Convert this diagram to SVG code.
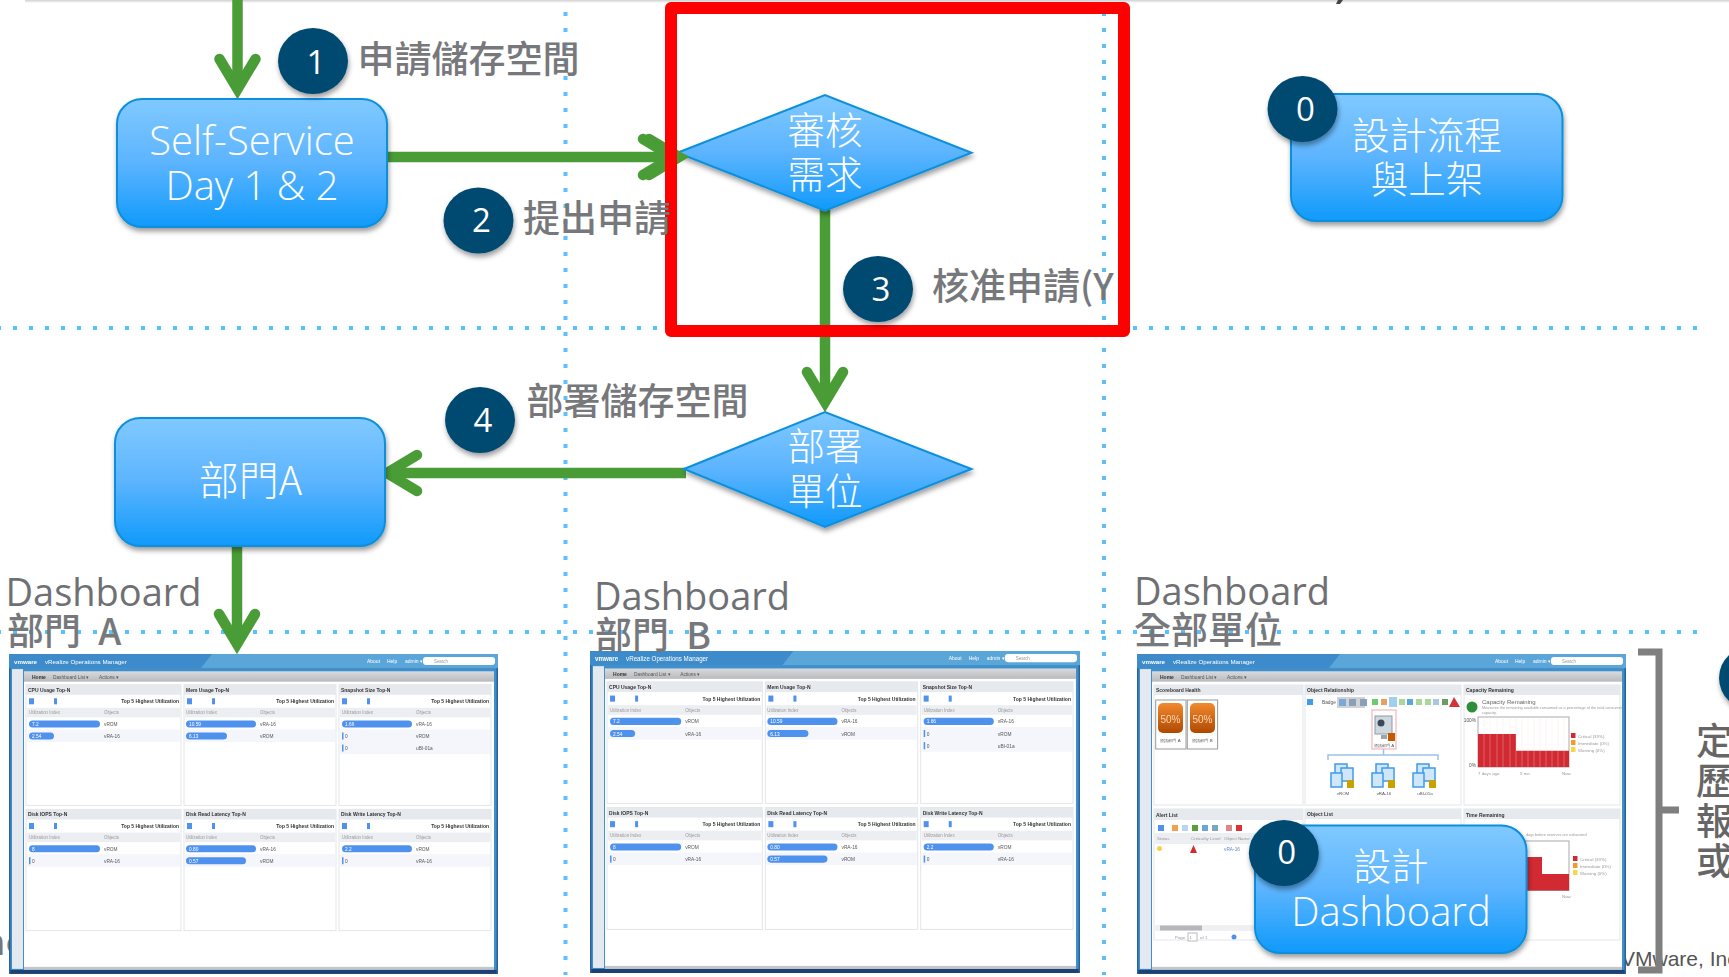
<svg xmlns="http://www.w3.org/2000/svg" xmlns:xlink="http://www.w3.org/1999/xlink" width="1729" height="977" viewBox="0 0 1729 977">
<style>
text{font-family:"Noto Sans CJK TC","Noto Sans",sans-serif}
.lbl{font-size:37px;fill:#77787b;font-weight:500}
.dash{font-size:38px;fill:#6f7073;font-family:"Open Sans","Noto Sans",sans-serif;font-weight:500}
.w{font-size:37.500px;fill:#fff;text-anchor:middle;font-weight:300}
.lat{font-family:"Open Sans","Noto Sans",sans-serif;font-size:40px;fill:#fff;text-anchor:middle;font-weight:300}
.num{font-family:"Open Sans","Noto Sans",sans-serif;font-size:33px;fill:#fff;text-anchor:middle}
.bub{fill:#004a70;filter:url(#sh)}
.node{fill:url(#ng);stroke:#0b8fdc;stroke-width:2;filter:url(#sh)}
.dot{fill:none;stroke:#5cc0fb;stroke-width:4;stroke-dasharray:4 12}
.arr{fill:none;stroke:#4a9c37;stroke-width:10.5}
.s{font-family:"Liberation Sans",sans-serif;font-size:4.8px;fill:#555}
.st{font-family:"Liberation Sans",sans-serif;font-size:5px;fill:#333;font-weight:bold}
.sg{font-family:"Liberation Sans",sans-serif;font-size:4.4px;fill:#999}
.sw{font-family:"Liberation Sans",sans-serif;font-size:6.2px;fill:#fff}
.bar{fill:#4f92ee}
.hd{fill:#e6e9ed}
.th{fill:#eceef2}
.alt{fill:#f5f6fb}
.pn{fill:#fff;stroke:#e4e6ea;stroke-width:1}
</style>
<defs>
<linearGradient id="ng" x1="0" y1="0" x2="0" y2="1"><stop offset="0" stop-color="#80c9ff"/><stop offset=".5" stop-color="#5cb4fe"/><stop offset="1" stop-color="#0f9afb"/></linearGradient>
<linearGradient id="tb" x1="0" y1="0" x2="0" y2="1"><stop offset="0" stop-color="#d8d9dc"/><stop offset="1" stop-color="#b9babd"/></linearGradient>
<linearGradient id="or" x1="0" y1="0" x2="0" y2="1"><stop offset="0" stop-color="#f28a30"/><stop offset="1" stop-color="#b04800"/></linearGradient>
<linearGradient id="top" x1="0" y1="0" x2="0" y2="1"><stop offset="0" stop-color="#cfcfcf"/><stop offset="1" stop-color="#fff"/></linearGradient>
<filter id="sh" x="-20%" y="-20%" width="140%" height="145%"><feDropShadow dx="1" dy="3.5" stdDeviation="2.6" flood-color="#000" flood-opacity=".38"/></filter>
<filter id="bl" x="-2%" y="-2%" width="104%" height="104%"><feGaussianBlur stdDeviation=".45"/></filter>
<marker id="ah" markerUnits="userSpaceOnUse" viewBox="-45 -30 70 60" refX="0" refY="0" markerWidth="70" markerHeight="60" orient="auto" overflow="visible"><path d="M-28,-18 L2,0 L-28,18" fill="none" stroke="#4a9c37" stroke-width="10.5" stroke-linecap="round"/></marker>

<g id="chrome">
<rect x="0" y="0" width="489" height="318" fill="#3f8fca"/>
<rect x="0" y="0" width="489" height="14" fill="#5aa6d8"/>
<polygon points="0,0 203,0 192,14 0,14" fill="#3c8bcb"/>
<rect x="0" y="314" width="489" height="4" fill="#1d4274"/>
<rect x="0" y="14" width="1.500" height="304" fill="#2b639c"/>
<rect x="487.500" y="14" width="1.500" height="304" fill="#2b639c"/>
<rect x="3" y="15" width="11" height="298" fill="#e4e9ef"/>
<rect x="15" y="17.5" width="470" height="294" fill="#fff"/>
<rect x="15" y="17.5" width="470" height="10" fill="url(#tb)"/>
<rect x="15" y="311" width="470" height="3" fill="#c4c6c9"/>
<text class="sw" x="5" y="9.5" font-weight="bold">vmware</text>
<text class="sw" x="36" y="9.5">vRealize Operations Manager</text>
<text class="sw" x="358" y="8.5" style="font-size:5px">About</text>
<text class="sw" x="378" y="8.5" style="font-size:5px">Help</text>
<text class="sw" x="396" y="8.5" style="font-size:5px">admin ▾</text>
<rect x="414" y="3" width="72" height="8" rx="3" fill="#fff"/>
<text class="sg" x="425" y="8.5">Search</text>
<text class="st" x="23" y="24.5">Home</text>
<text class="s" x="44" y="24.5">Dashboard List ▾</text>
<text class="s" x="90" y="24.5">Actions ▾</text>
</g>

<g id="toplist">
<rect class="pn" x="17" y="30.5" width="155" height="120"/><rect class="hd" x="17" y="30.5" width="155" height="10"/>
<rect class="pn" x="175" y="30.5" width="152" height="120"/><rect class="hd" x="175" y="30.5" width="152" height="10"/>
<rect class="pn" x="330" y="30.5" width="152" height="120"/><rect class="hd" x="330" y="30.5" width="152" height="10"/>
<rect class="pn" x="17" y="154.5" width="155" height="120.500"/><rect class="hd" x="17" y="154.5" width="155" height="10"/>
<rect class="pn" x="175" y="154.5" width="152" height="120.500"/><rect class="hd" x="175" y="154.500" width="152" height="10"/>
<rect class="pn" x="330" y="154.5" width="152" height="120.500"/><rect class="hd" x="330" y="154.500" width="152" height="10"/>

<text class="st" x="19" y="37.500">CPU Usage Top-N</text>
<text class="st" x="177" y="37.500">Mem Usage Top-N</text>
<text class="st" x="332" y="37.500">Snapshot Size Top-N</text>
<text class="st" x="19" y="161.500">Disk IOPS Top-N</text>
<text class="st" x="177" y="161.500">Disk Read Latency Top-N</text>
<text class="st" x="332" y="161.500">Disk Write Latency Top-N</text>

<g fill="#4f92ee">
<rect x="20" y="44" width="5" height="6"/><rect x="178" y="44" width="5" height="6"/><rect x="333" y="44" width="5" height="6"/>
<rect x="20" y="168" width="5" height="6"/><rect x="178" y="168" width="5" height="6"/><rect x="333" y="168" width="5" height="6"/>
<rect x="45" y="44" width="3" height="6"/><rect x="203" y="44" width="3" height="6"/><rect x="358" y="44" width="3" height="6"/>
<rect x="45" y="168" width="3" height="6"/><rect x="203" y="168" width="3" height="6"/><rect x="358" y="168" width="3" height="6"/>
</g>
<text class="st" x="170" y="49" text-anchor="end">Top 5 Highest Utilization</text>
<text class="st" x="325" y="49" text-anchor="end">Top 5 Highest Utilization</text>
<text class="st" x="480" y="49" text-anchor="end">Top 5 Highest Utilization</text>
<text class="st" x="170" y="173" text-anchor="end">Top 5 Highest Utilization</text>
<text class="st" x="325" y="173" text-anchor="end">Top 5 Highest Utilization</text>
<text class="st" x="480" y="173" text-anchor="end">Top 5 Highest Utilization</text>
<rect class="th" x="18" y="53.5" width="153" height="9.500"/><rect class="th" x="176" y="53.500" width="150" height="9.500"/><rect class="th" x="331" y="53.500" width="150" height="9.500"/>
<rect class="th" x="18" y="177.500" width="153" height="9.500"/><rect class="th" x="176" y="177.500" width="150" height="9.500"/><rect class="th" x="331" y="177.500" width="150" height="9.500"/>
<rect class="alt" x="18" y="75" width="153" height="12.500"/><rect class="alt" x="176" y="75" width="150" height="12.500"/><rect class="alt" x="331" y="75" width="150" height="12.500"/>
<rect class="alt" x="18" y="199" width="153" height="12.500"/><rect class="alt" x="176" y="199" width="150" height="12.500"/><rect class="alt" x="331" y="199" width="150" height="12.500"/>
<rect class="alt" x="331" y="87.500" width="150" height="12"/>

<text class="sg" x="20" y="60">Utilization Index</text><text class="sg" x="95" y="60">Objects</text>
<text class="sg" x="177" y="60">Utilization Index</text><text class="sg" x="251" y="60">Objects</text>
<text class="sg" x="333" y="60">Utilization Index</text><text class="sg" x="407" y="60">Objects</text>
<text class="sg" x="20" y="184">Utilization Index</text><text class="sg" x="95" y="184">Objects</text>
<text class="sg" x="177" y="184">Utilization Index</text><text class="sg" x="251" y="184">Objects</text>
<text class="sg" x="333" y="184">Utilization Index</text><text class="sg" x="407" y="184">Objects</text>

<rect class="bar" x="20" y="66" width="71" height="7" rx="3.500"/><rect class="bar" x="20" y="78" width="25" height="7" rx="3.500"/>
<rect class="bar" x="177" y="66" width="70" height="7" rx="3.500"/><rect class="bar" x="177" y="78" width="41" height="7" rx="3.500"/>
<rect class="bar" x="333" y="66" width="70" height="7" rx="3.500"/><rect class="bar" x="333" y="78" width="1.500" height="7"/><rect class="bar" x="333" y="90" width="1.500" height="7"/>
<rect class="bar" x="20" y="190" width="71" height="7" rx="3.500"/><rect class="bar" x="20" y="202" width="1.500" height="7"/>
<rect class="bar" x="177" y="190" width="70" height="7" rx="3.500"/><rect class="bar" x="177" y="202" width="60" height="7" rx="3.500"/>
<rect class="bar" x="333" y="190" width="70" height="7" rx="3.500"/><rect class="bar" x="333" y="202" width="1.500" height="7"/>

<text class="s" style="fill:#fff" x="23" y="71.500">7.2</text><text class="s" style="fill:#fff" x="23" y="83.500">2.54</text>
<text class="s" style="fill:#fff" x="180" y="71.500">10.59</text><text class="s" style="fill:#fff" x="180" y="83.500">6.13</text>
<text class="s" style="fill:#fff" x="336" y="71.500">1.66</text><text class="s" x="336" y="83.500">0</text><text class="s" x="336" y="95.500">0</text>
<text class="s" style="fill:#fff" x="23" y="195.500">8</text><text class="s" x="23" y="207.500">0</text>
<text class="s" style="fill:#fff" x="180" y="195.500">0.80</text><text class="s" style="fill:#fff" x="180" y="207.500">0.57</text>
<text class="s" style="fill:#fff" x="336" y="195.500">2.2</text><text class="s" x="336" y="207.500">0</text>
<text class="s" x="95" y="71.500">vROM</text><text class="s" x="95" y="83.500">vRA-16</text>
<text class="s" x="251" y="71.500">vRA-16</text><text class="s" x="251" y="83.500">vROM</text>
<text class="s" x="407" y="71.500">vRA-16</text><text class="s" x="407" y="83.500">vROM</text><text class="s" x="407" y="95.500">uBI-01a</text>
<text class="s" x="95" y="195.500">vROM</text><text class="s" x="95" y="207.500">vRA-16</text>
<text class="s" x="251" y="195.500">vRA-16</text><text class="s" x="251" y="207.500">vROM</text>
<text class="s" x="407" y="195.500">vROM</text><text class="s" x="407" y="207.500">vRA-16</text>
</g>

<g id="pile"><rect x="-8" y="-13" width="12" height="13" fill="#cfe6fb" stroke="#3f9bea" stroke-width="1.500"/><rect x="-2" y="-9" width="12" height="13" fill="#cfe6fb" stroke="#3f9bea" stroke-width="1.500"/><rect x="-12" y="-4" width="11" height="14" fill="#cfe6fb" stroke="#3f9bea" stroke-width="1.500"/><rect x="4" y="3" width="7" height="8" fill="#c9a200"/></g>
</defs>

<rect width="1729" height="977" fill="#fff"/>
<rect id="top-edge" x="25" y="0" width="1704" height="3" fill="url(#top)"/>
<path d="M1338,0 l5,0 l-3,4 l-4,0 z" fill="#444"/>

<g id="dotted">
<line class="dot" x1="-3" y1="328" x2="1697" y2="328"/>
<line class="dot" x1="-3" y1="632" x2="1697" y2="632"/>
<line class="dot" x1="565.500" y1="12" x2="565.500" y2="975"/>
<line class="dot" x1="1104" y1="12" x2="1104" y2="975"/>
</g>

<g id="fragments">
<text class="lbl" x="-17" y="955" style="font-weight:400">nc</text>
<text x="1621" y="966" style="font-family:'Liberation Sans',sans-serif;font-size:21px;fill:#555">VMware, Inc</text>
</g>

<g id="dash-a"><g transform="translate(9,654) scale(1,1.006)" filter="url(#bl)"><use href="#chrome"/><use href="#toplist"/></g></g>
<g id="dash-b"><g transform="translate(590,651) scale(1.002,1.0126)" filter="url(#bl)"><use href="#chrome"/><use href="#toplist"/></g></g>

<g id="dash-c">
<g transform="translate(1137,654) scale(1,1.006)" filter="url(#bl)"><use href="#chrome"/></g>
<g filter="url(#bl)">
<rect class="pn" x="1154" y="685" width="149" height="120"/><rect class="hd" x="1154" y="685" width="149" height="10"/>
<rect class="pn" x="1305" y="685" width="156" height="120"/><rect class="hd" x="1305" y="685" width="156" height="10"/>
<rect class="pn" x="1464" y="685" width="156" height="120"/><rect class="hd" x="1464" y="685" width="156" height="10"/>
<rect class="pn" x="1154" y="809" width="149" height="131"/><rect class="hd" x="1154" y="809" width="149" height="11"/>
<rect class="pn" x="1305" y="809" width="156" height="131"/><rect class="hd" x="1305" y="809" width="156" height="10"/>
<rect class="pn" x="1464" y="809" width="156" height="131"/><rect class="hd" x="1464" y="809" width="156" height="10"/>
<text class="st" x="1156" y="692">Scoreboard Health</text>
<text class="st" x="1307" y="692">Object Relationship</text>
<text class="st" x="1466" y="692">Capacity Remaining</text>
<text class="st" x="1156" y="816.500">Alert List</text>
<text class="st" x="1307" y="816">Object List</text>
<text class="st" x="1466" y="816.500">Time Remaining</text>
<rect x="1155.700" y="700" width="30.300" height="49" fill="#fff" stroke="#9a9a9a"/>
<rect x="1187.300" y="700" width="30.300" height="49" fill="#fff" stroke="#9a9a9a"/>
<rect x="1158" y="703" width="25" height="30" rx="5" fill="url(#or)"/>
<rect x="1190" y="703" width="25" height="30" rx="5" fill="url(#or)"/>
<text x="1170.500" y="723" text-anchor="middle" style="font-family:'Liberation Sans',sans-serif;font-size:10px;fill:#fbd9bb">50%</text>
<text x="1202.500" y="723" text-anchor="middle" style="font-family:'Liberation Sans',sans-serif;font-size:10px;fill:#fbd9bb">50%</text>
<text class="sg" x="1170.500" y="741.500" text-anchor="middle" style="fill:#555">資訊部門 A</text>
<text class="sg" x="1202.500" y="741.500" text-anchor="middle" style="fill:#555">資訊部門 B</text>

<g id="obj-toolbar">
<rect x="1307" y="699" width="6" height="6" fill="#3f9bea"/>
<text class="s" x="1322" y="704">Badge</text>
<rect x="1337" y="697" width="28" height="11" fill="#d0d2d6"/>
<rect x="1339" y="699" width="7" height="7" fill="#7ca7d6"/><rect x="1349" y="699" width="7" height="7" fill="#8aa0b8"/><rect x="1360" y="699" width="7" height="7" fill="#8aa0b8"/>
<rect x="1372" y="699" width="6" height="6" fill="#6ccb6c"/><rect x="1381" y="699" width="6" height="6" fill="#e8a060"/><rect x="1389" y="697" width="8" height="10" fill="#9fd0ee"/>
<rect x="1399" y="699" width="6" height="6" fill="#a9d89a"/><rect x="1407" y="699" width="6" height="6" fill="#5aa6e0"/><rect x="1416" y="699" width="6" height="6" fill="#a9d89a"/><rect x="1425" y="699" width="6" height="6" fill="#a9d89a"/><rect x="1433" y="699" width="6" height="6" fill="#a8c7e0"/><rect x="1442" y="699" width="6" height="6" fill="#6c9c60"/>
<polygon points="1454,697 1460,707 1449,707" fill="#d23434"/>
</g>
<rect x="1372" y="710" width="24" height="39" fill="#fff" stroke="#f0a8a8"/>
<rect x="1375" y="716" width="17" height="18" fill="#cfd8df" stroke="#8e9ba6"/>
<circle cx="1381" cy="723" r="3.500" fill="#3a4a56"/>
<rect x="1388" y="733" width="7" height="8" fill="#c45a00"/>
<rect x="1381" y="735" width="6" height="4" fill="#9aa5ad"/>
<text class="sg" x="1384" y="747" text-anchor="middle" style="fill:#555">資訊部門 A</text>
<path d="M1383.500,749 V755 M1328,760 V755 H1438 V760" fill="none" stroke="#9cc3e6" stroke-width="1.500"/>
<use href="#pile" x="1343" y="777"/><use href="#pile" x="1384" y="777"/><use href="#pile" x="1425" y="777"/>
<text class="sg" x="1343" y="795" text-anchor="middle" style="fill:#555">vROM</text>
<text class="sg" x="1384" y="795" text-anchor="middle" style="fill:#555">vRA-16</text>
<text class="sg" x="1425" y="795" text-anchor="middle" style="fill:#555">uBI-01a</text>

<circle cx="1472" cy="707" r="5.500" fill="#2f8f3a"/>
<text x="1482" y="704" style="font-family:'Liberation Sans',sans-serif;font-size:6px;fill:#666">Capacity Remaining</text>
<text class="sg" x="1482" y="709" style="font-size:3.800px">Measures the remaining available consumed as a percentage of the total consumer</text>
<text class="sg" x="1482" y="714" style="font-size:3.800px">capacity.</text>
<rect x="1478" y="717" width="91" height="50" fill="#fff" stroke="#aaa"/>
<path d="M1478,734 H1516 V750.700 H1569 V767 H1478 Z" fill="#d22a33"/>
<path d="M1484,717 V767 M1490,717 V767 M1497,717 V767 M1503,717 V767 M1510,717 V767 M1516,717 V767 M1522,717 V767 M1528,717 V767 M1534,717 V767 M1540,717 V767 M1546,717 V767 M1552,717 V767 M1558,717 V767 M1564,717 V767" stroke="#ffd9dc" stroke-opacity=".45" stroke-width=".7"/>
<rect x="1571" y="733" width="4.500" height="5" fill="#d22a33"/><rect x="1571" y="740" width="4.500" height="5" fill="#f59a2e"/><rect x="1571" y="747" width="4.500" height="5" fill="#f5d84a"/>
<text class="sg" x="1578" y="737.500">Critical (33%)</text><text class="sg" x="1578" y="744.500">Immediate (0%)</text><text class="sg" x="1578" y="751.500">Warning (0%)</text>
<text class="s" x="1476" y="722" text-anchor="end">100%</text><text class="s" x="1476" y="767" text-anchor="end">0%</text>
<text class="sg" x="1478" y="775">7 days ago</text><text class="sg" x="1520" y="775">5 mo</text><text class="sg" x="1562" y="775">Now</text>

<g id="alert" transform="translate(0,1)">
<rect x="1158" y="824" width="6" height="6" fill="#4f92ee"/><rect x="1172" y="824" width="6" height="6" fill="#f0a050"/><rect x="1182" y="824" width="6" height="6" fill="#b9d6f0"/><rect x="1192" y="824" width="6" height="6" fill="#5a9e3a"/><rect x="1202" y="824" width="6" height="6" fill="#6ba7d8"/><rect x="1212" y="824" width="6" height="6" fill="#7aa6c2"/><rect x="1226" y="824" width="6" height="6" fill="#d88"/><rect x="1236" y="824" width="6" height="6" fill="#d33"/>
<rect class="th" x="1155" y="832" width="147" height="11"/>
<text class="sg" x="1157" y="839">Status</text><text class="sg" x="1191" y="839">Criticality Level</text><text class="sg" x="1224" y="839">Object Name</text>
<circle cx="1159.500" cy="847.500" r="2.500" fill="#f5d24a"/>
<polygon points="1193.500,844 1197,852 1190,852" fill="#d92c2c"/>
<text class="s" x="1224" y="850" style="fill:#5a8ec8">vRA-16</text>
<rect x="1155" y="924" width="147" height="6" fill="#f0f0f2"/><rect x="1160" y="924.500" width="42" height="5" fill="#b5b7ba"/>
<text class="sg" x="1175" y="938">Page</text><rect x="1188" y="932" width="9" height="8" fill="#fff" stroke="#bbb"/><text class="sg" x="1189.500" y="938">1</text><text class="sg" x="1200" y="938">of 1</text>
<circle cx="1234" cy="936" r="2.500" fill="#4f92ee"/>
</g>
<g id="time" transform="translate(0,1)">
<rect x="1478" y="840" width="91" height="49.500" fill="#fff" stroke="#aaa"/>
<path d="M1478,856 H1542 V873 H1569 V889.500 H1478 Z" fill="#d22a33"/>
<rect x="1573" y="855" width="4.500" height="5" fill="#d22a33"/><rect x="1573" y="862" width="4.500" height="5" fill="#f59a2e"/><rect x="1573" y="869" width="4.500" height="5" fill="#f5d84a"/>
<text class="sg" x="1580" y="859.500">Critical (33%)</text><text class="sg" x="1580" y="866.500">Immediate (0%)</text><text class="sg" x="1580" y="873.500">Warning (0%)</text>
<text class="sg" x="1562" y="897">Now</text>
<text class="sg" x="1526" y="835" style="font-size:3.800px">days before reserves are exhausted</text>
</g>
</g>
</g>

<g id="connectors">
<line class="arr" x1="237.500" y1="0" x2="237.500" y2="87" marker-end="url(#ah)"/>
<line class="arr" x1="387" y1="157" x2="671" y2="157" marker-end="url(#ah)"/>
<line class="arr" x1="825" y1="208" x2="825" y2="400" marker-end="url(#ah)"/>
<line class="arr" x1="686" y1="473" x2="389" y2="473" marker-end="url(#ah)"/>
<line class="arr" x1="237" y1="546" x2="237" y2="642" marker-end="url(#ah)"/>
</g>

<g id="node-self"><rect class="node" x="117" y="99" width="270" height="128" rx="25"/>
<text class="lat" x="252" y="155">Self-Service</text><text class="lat" x="252" y="200">Day 1 &amp; 2</text></g>
<g id="node-dept"><rect class="node" x="115" y="418" width="270" height="128" rx="25"/>
<text class="w" x="250.500" y="495" style="font-size:40px">部門A</text></g>
<g id="node-design"><rect class="node" x="1291" y="94" width="271.500" height="127" rx="25"/>
<text class="w" x="1427" y="149">設計流程</text><text class="w" x="1427" y="193">與上架</text></g>
<g id="node-review"><polygon class="node" points="677.500,152.700 825,95 971.500,152.700 825,210.700"/>
<text class="w" x="825" y="144">審核</text><text class="w" x="825" y="188">需求</text></g>
<g id="node-deploy"><polygon class="node" points="684,469 825,412 971.500,469 825,527"/>
<text class="w" x="825" y="460">部署</text><text class="w" x="825" y="505">單位</text></g>
<g id="node-dash"><rect class="node" x="1255" y="825.500" width="271.500" height="127.500" rx="25"/>
<text class="w" x="1391" y="880">設計</text><text class="lat" x="1391" y="925.500">Dashboard</text></g>

<line class="arr" x1="672" y1="157" x2="677" y2="157" marker-end="url(#ah)"/>

<g id="red-frame"><rect x="671" y="8" width="453" height="323" fill="none" stroke="#fe0000" stroke-width="12" stroke-linejoin="round"/></g>

<g id="bubbles">
<g id="b1"><ellipse class="bub" cx="313" cy="61" rx="35" ry="33"/><text class="num" x="316" y="74">1</text></g>
<g id="b2"><ellipse class="bub" cx="478.500" cy="220.500" rx="35" ry="33"/><text class="num" x="481.500" y="232">2</text></g>
<g id="b3"><ellipse class="bub" cx="878" cy="289" rx="35" ry="33"/><text class="num" x="881" y="301">3</text></g>
<g id="b4"><ellipse class="bub" cx="480" cy="420" rx="35" ry="33"/><text class="num" x="483" y="432">4</text></g>
<g id="b0a"><ellipse class="bub" cx="1302.500" cy="109" rx="35" ry="33"/><text class="num" x="1305.500" y="121">0</text></g>
<g id="b0b"><ellipse class="bub" cx="1283.800" cy="853" rx="35" ry="33"/><text class="num" x="1286.600" y="864">0</text></g>
<g id="b-right"><ellipse class="bub" cx="1754" cy="678" rx="35" ry="33"/></g>
</g>

<g id="labels">
<text class="lbl" x="357.500" y="73">申請儲存空間</text>
<text class="lbl" x="523" y="232">提出申請</text>
<text class="lbl" x="932" y="300">核准申請(Y</text>
<text class="lbl" x="526.500" y="415">部署儲存空間</text>
<text class="dash" x="5.500" y="606">Dashboard</text>
<text class="lbl" x="7" y="645" word-spacing="9">部門 A</text>
<text class="dash" x="594" y="610">Dashboard</text>
<text class="lbl" x="595" y="649" word-spacing="9">部門 B</text>
<text class="dash" x="1134" y="605">Dashboard</text>
<text class="lbl" x="1134" y="644">全部單位</text>
<text class="lbl" x="1696" y="755" style="fill:#666">定</text>
<text class="lbl" x="1696" y="795" style="fill:#666">歷</text>
<text class="lbl" x="1696" y="835" style="fill:#666">報</text>
<text class="lbl" x="1696" y="875" style="fill:#666">或</text>
</g>

<g id="brace"><path d="M1638,652 H1659 V810 H1679 M1659,810 V970 H1638" fill="none" stroke="#7f7f7f" stroke-width="7"/></g>
</svg>
